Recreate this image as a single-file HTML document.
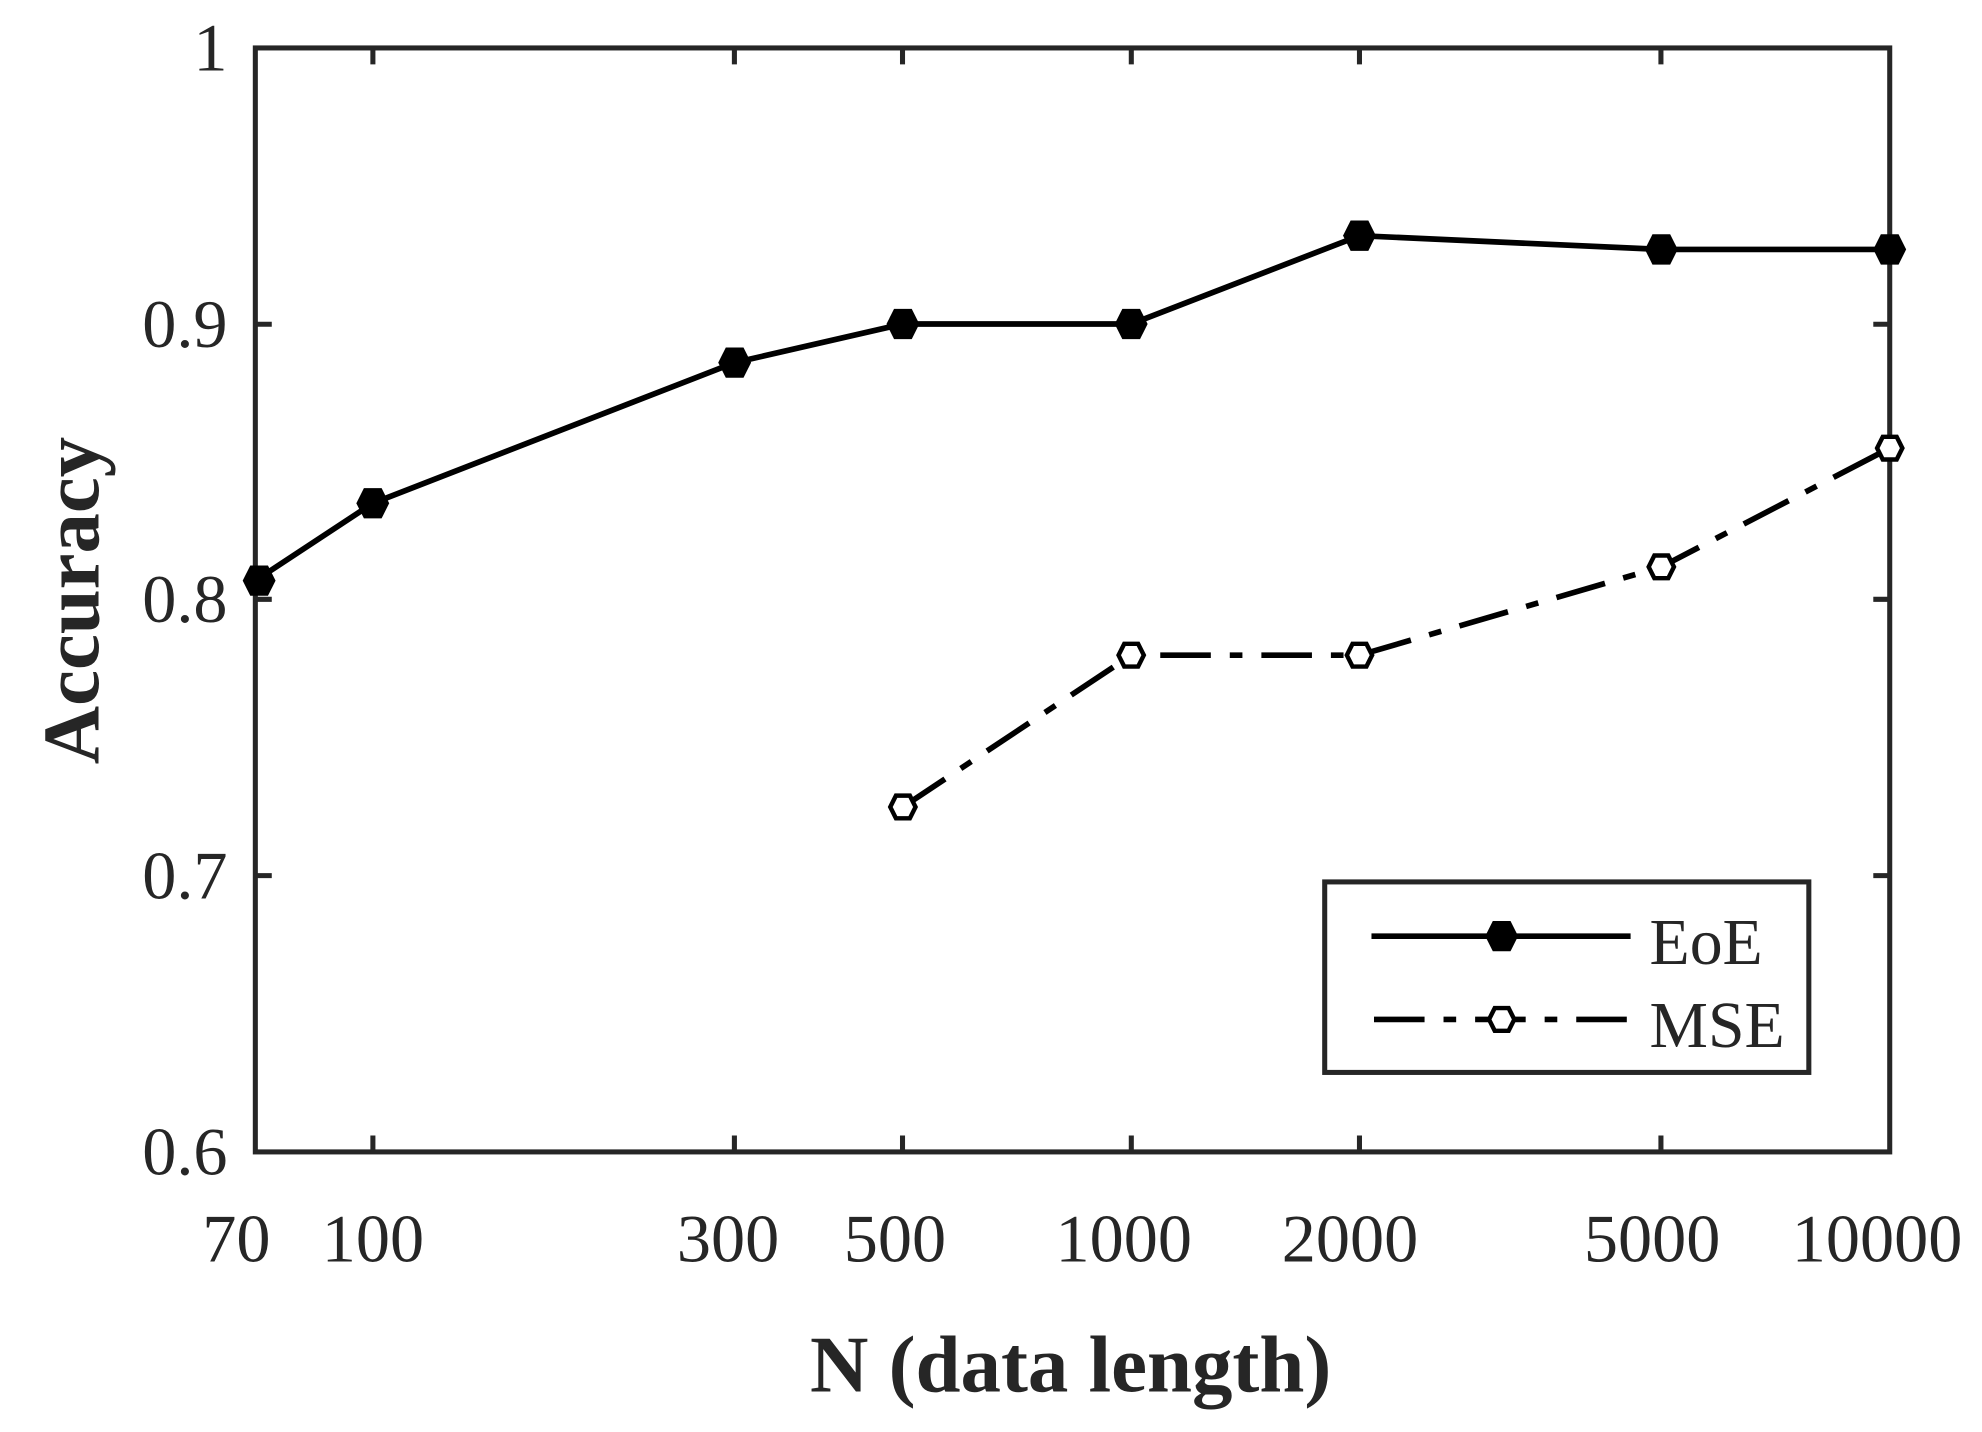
<!DOCTYPE html>
<html><head><meta charset="utf-8"><style>html,body{margin:0;padding:0;background:#fff}svg{display:block}</style></head>
<body>
<svg width="1982" height="1432" viewBox="0 0 1568 1135" preserveAspectRatio="none" xmlns="http://www.w3.org/2000/svg" font-family="Liberation Serif, serif">
<defs>
<path id="hx" d="M-13,0 L-7,-12 L7,-12 L13,0 L7,12 L-7,12 Z"/>
<path id="hs" d="M-10,0 L-5.5,-9 L5.5,-9 L10,0 L5.5,9 L-5.5,9 Z"/>
</defs>
<rect width="1568" height="1135" fill="#fff"/>
<g stroke="#262626" stroke-width="4" fill="none">
<rect x="202" y="38" width="1293" height="875"/>
<path d="M202,257h13M202,475h13M202,694h13M1495,257h-13M1495,475h-13M1495,694h-13
M295,913v-13M581,913v-13M714,913v-13M895,913v-13M1075.5,913v-13M1314,913v-13
M295,38v13M581,38v13M714,38v13M895,38v13M1075.5,38v13M1314,38v13"/>
</g>
<g fill="#262626" font-size="54" text-anchor="end">
<text x="180" y="56">1</text>
<text x="180" y="275">0.9</text>
<text x="180" y="493">0.8</text>
<text x="180" y="712">0.7</text>
<text x="180" y="931">0.6</text>
</g>
<g fill="#262626" font-size="54" text-anchor="middle">
<text x="187" y="1000">70</text>
<text x="295" y="1000">100</text>
<text x="576" y="1000">300</text>
<text x="708" y="1000">500</text>
<text x="889" y="1000">1000</text>
<text x="1068" y="1000">2000</text>
<text x="1307" y="1000">5000</text>
<text x="1485" y="1000">10000</text>
</g>
<text x="847" y="1103" text-anchor="middle" font-size="64" font-weight="bold" fill="#262626">N (data length)</text>
<text transform="translate(78,476) rotate(-90)" text-anchor="middle" font-size="64" font-weight="bold" fill="#262626">Accuracy</text>
<polyline fill="none" stroke="#000" stroke-width="4.5" points="202,460.2 294.9,398.9 581.2,287.4 714.3,256.8 894.9,256.8 1075.5,186.8 1314.3,197.7 1495,197.7"/>
<polyline fill="none" stroke="#000" stroke-width="4.5" stroke-dasharray="40,15,10,15" points="714.3,639.6 894.9,519.3 1075.5,519.3 1314.3,449.3 1495,355.2"/>
<g fill="#000">
<use href="#hx" x="205" y="460.2"/><use href="#hx" x="294.9" y="398.9"/><use href="#hx" x="581.2" y="287.4"/><use href="#hx" x="714.3" y="256.8"/><use href="#hx" x="894.9" y="256.8"/><use href="#hx" x="1075.5" y="186.8"/><use href="#hx" x="1314.3" y="197.7"/><use href="#hx" x="1495" y="197.7"/>
</g>
<g fill="#fff" stroke="#000" stroke-width="3.5">
<use href="#hs" x="714.3" y="639.6"/><use href="#hs" x="894.9" y="519.3"/><use href="#hs" x="1075.5" y="519.3"/><use href="#hs" x="1314.3" y="449.3"/><use href="#hs" x="1495" y="355.2"/>
</g>
<rect x="1048" y="699" width="383" height="151" fill="#fff" stroke="#262626" stroke-width="4"/>
<line x1="1085" y1="742" x2="1290" y2="742" stroke="#000" stroke-width="4.5"/>
<use href="#hx" x="1188" y="742" fill="#000"/>
<line x1="1087" y1="808" x2="1290" y2="808" stroke="#000" stroke-width="4.5" stroke-dasharray="40,15,10,15"/>
<use href="#hs" x="1188" y="808" fill="#fff" stroke="#000" stroke-width="3.5"/>
<text x="1305" y="764" font-size="52" fill="#262626">EoE</text>
<text x="1305" y="830" font-size="52" fill="#262626">MSE</text>
</svg>
</body></html>
